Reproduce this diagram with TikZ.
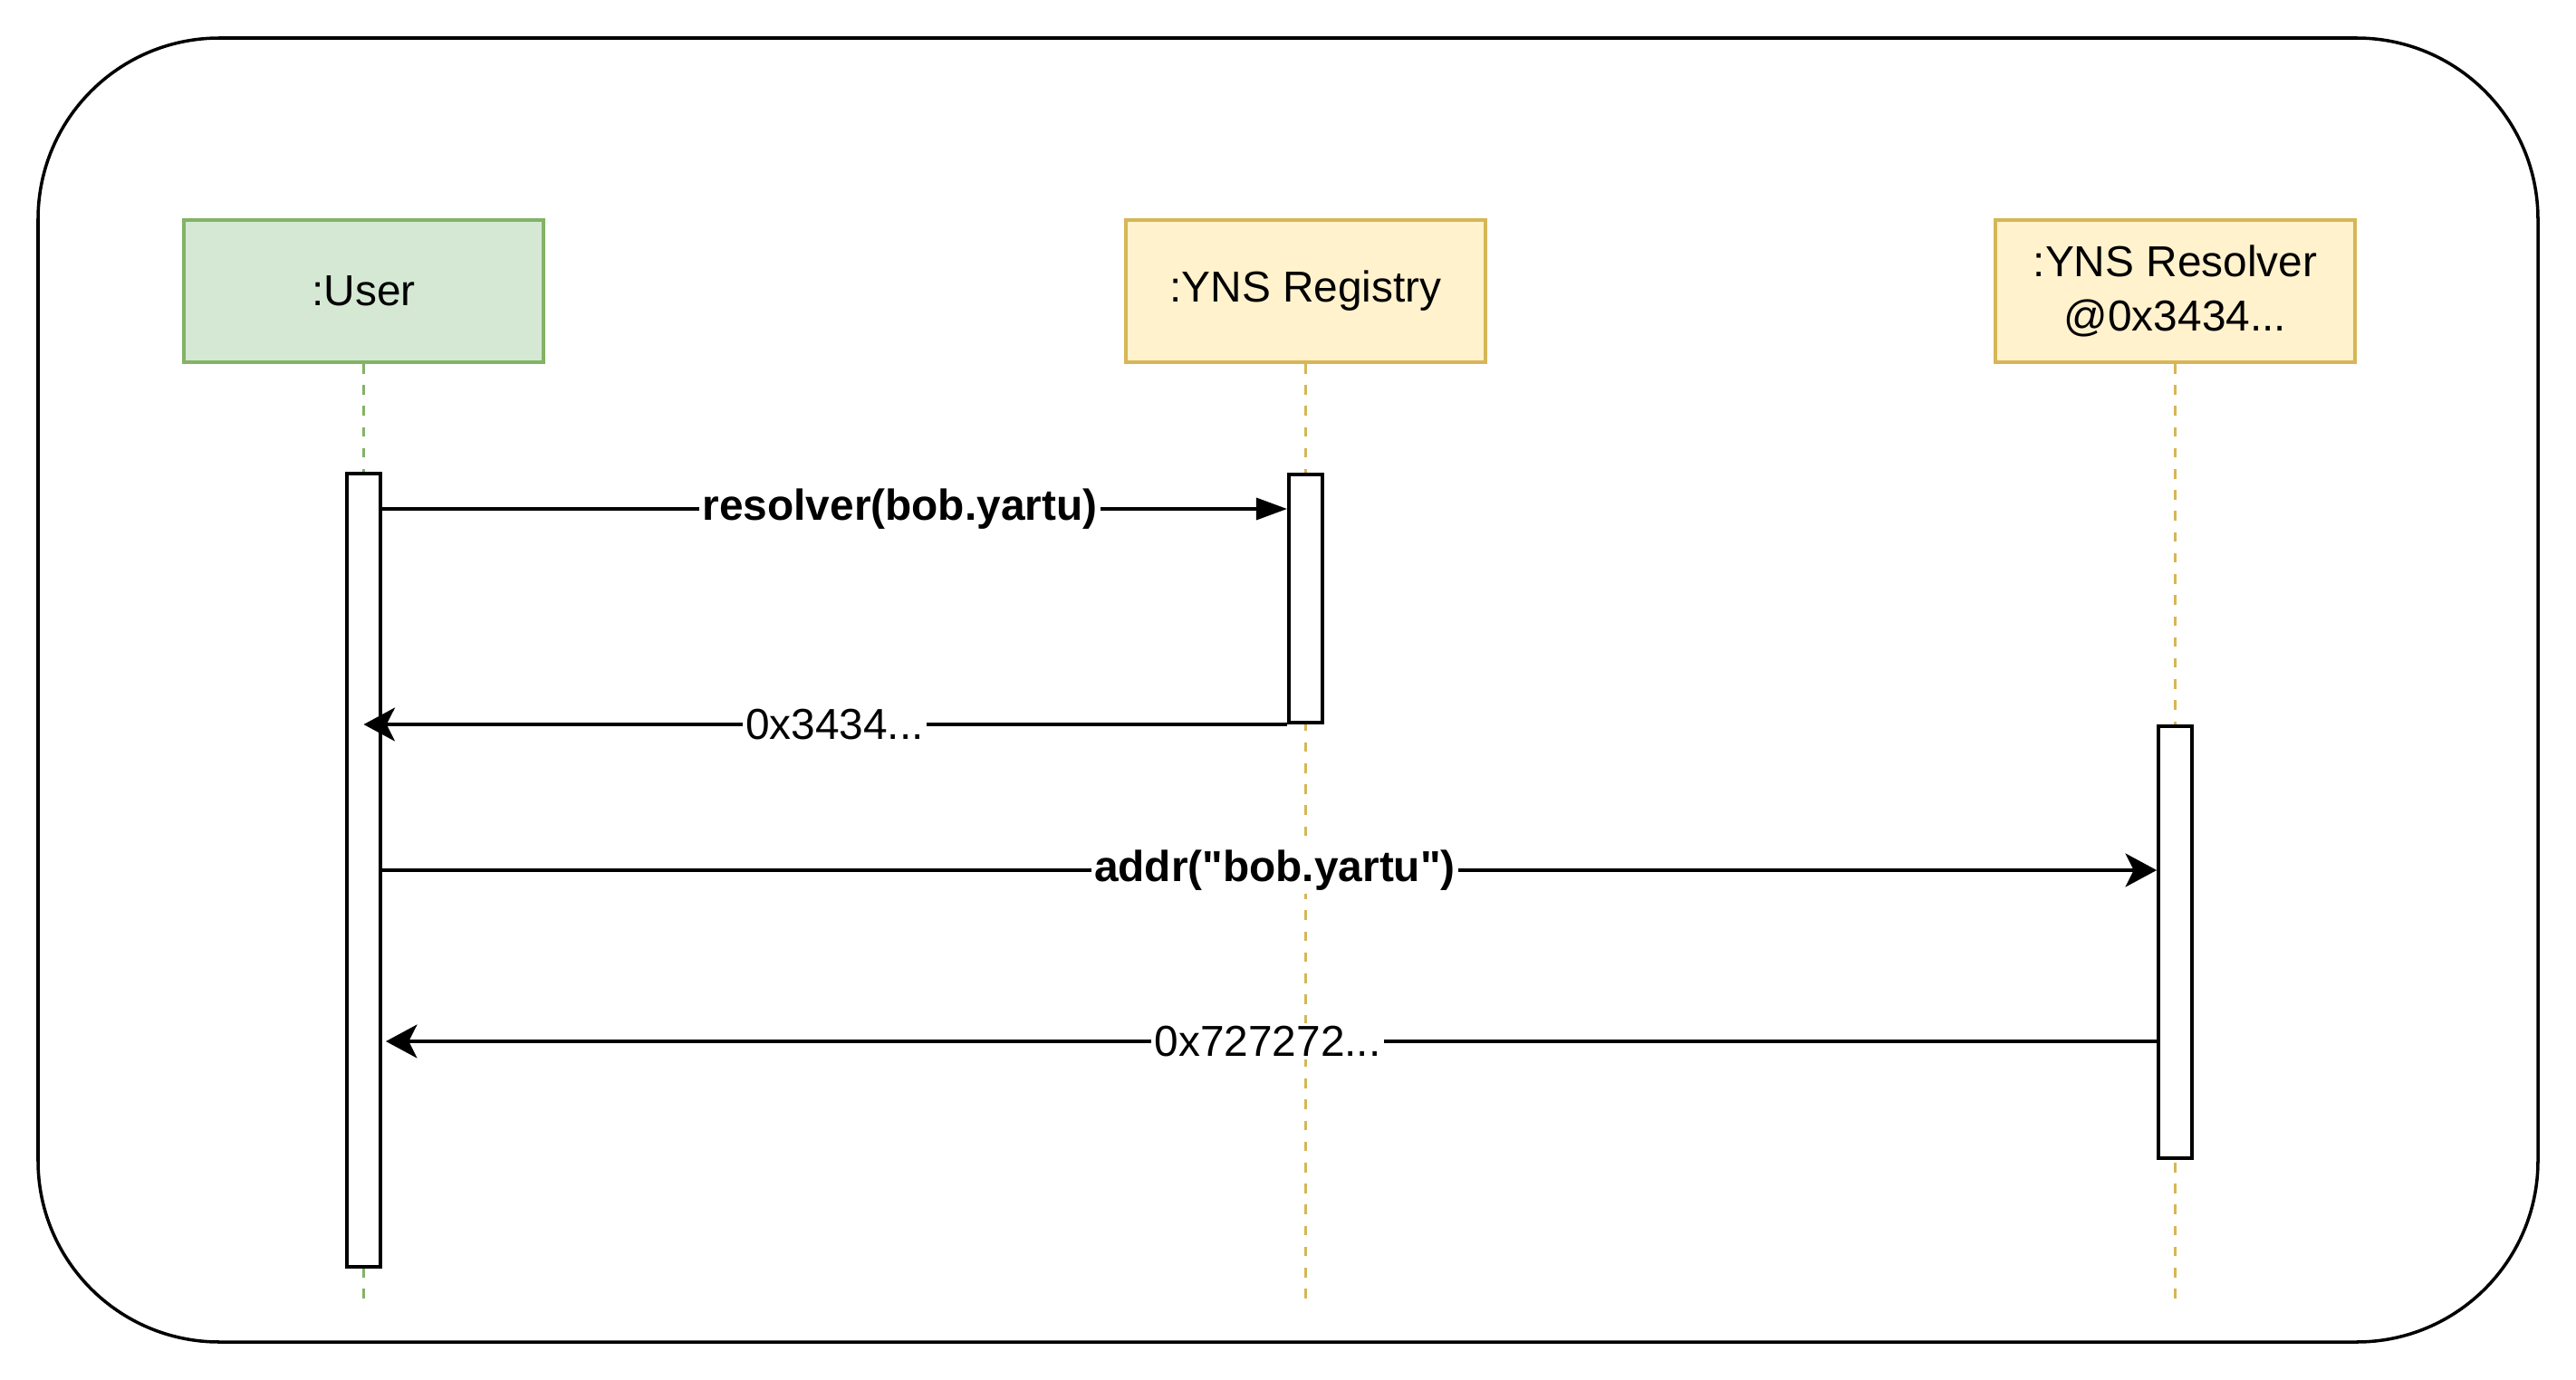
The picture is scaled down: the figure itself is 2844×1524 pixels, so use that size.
\documentclass[tikz,border=0pt]{standalone}
\usepackage{fontspec}
\setmainfont{Liberation Sans}
\usetikzlibrary{arrows.meta}
\definecolor{ufill}{HTML}{D5E8D4}
\definecolor{uline}{HTML}{82B366}
\definecolor{yfill}{HTML}{FFF2CC}
\definecolor{yline}{HTML}{D6B656}
\begin{document}
\begin{tikzpicture}[x=0.01cm,y=-0.01cm,
  every node/.style={font=\fontsize{13.6}{16.8}\selectfont},
  actor/.style={draw, line width=1.1pt, minimum width=3.97cm, minimum height=1.57cm, align=center, inner sep=0pt},
  actbar/.style={draw, fill=white, line width=1.1pt, minimum width=0.37cm, inner sep=0pt},
  life/.style={line width=1.1pt, dash pattern=on 3pt off 3.6pt},
  msg/.style={line width=1.1pt},
  blockhead/.style={-{Triangle[length=9.7pt,width=6.8pt]}},
  classichead/.style={-{Stealth[length=9.8pt,width=10.5pt,inset=2.6pt]}},
  lbl/.style={fill=white, inner sep=1pt}
]
\useasboundingbox (0,0) rectangle (2844,1524);
% outer frame
\draw[line width=1pt, rounded corners=2cm] (42,42) rectangle (2802,1482);

% actors
\node[actor, fill=ufill, draw=uline] (user) at (401.5,321.5) {:User};
\node[actor, fill=yfill, draw=yline] (reg) at (1441.5,321.5) {:YNS Registry};
\node[actor, fill=yfill, draw=yline] (res) at (2401.5,321.5) {:YNS Resolver\\@0x3434...};

% lifeline ends
\coordinate (uend) at (401.5,1442);
\coordinate (rend) at (1441.5,1442);
\coordinate (send) at (2401.5,1442);
\draw[life, uline] (user.south) -- (uend);
\draw[life, yline] (reg.south) -- (rend);
\draw[life, yline] (res.south) -- (send);

% activation bars
\node[actbar, minimum height=8.76cm] (ubar) at (401.5,961) {};
\node[actbar, minimum height=2.74cm] (rbar) at (1441.5,661) {};
\node[actbar, minimum height=4.77cm] (sbar) at (2401.5,1040.5) {};

% messages
\coordinate (m1) at (0,562);
\coordinate (m3) at (0,961);
\coordinate (m4) at (0,1150);
\coordinate (t4) at (426,1150);

\draw[msg, blockhead] (ubar.east |- m1) -- (rbar.west |- m1)
  node[lbl, pos=0.572] (l1) {\bfseries resolver(bob.yartu)};
\draw[msg, classichead] (rbar.south west) -- (ubar.center |- rbar.south west)
  node[lbl, pos=0.49] (l2) {0x3434...};
\draw[msg, classichead] (ubar.east |- m3) -- (sbar.west |- m3)
  node[lbl, pos=0.503] (l3) {\bfseries addr(\textquotedbl bob.yartu\textquotedbl)};
\draw[msg, classichead] (sbar.west |- m4) -- (t4)
  node[lbl, pos=0.502] (l4) {0x727272...};
\end{tikzpicture}
\end{document}
